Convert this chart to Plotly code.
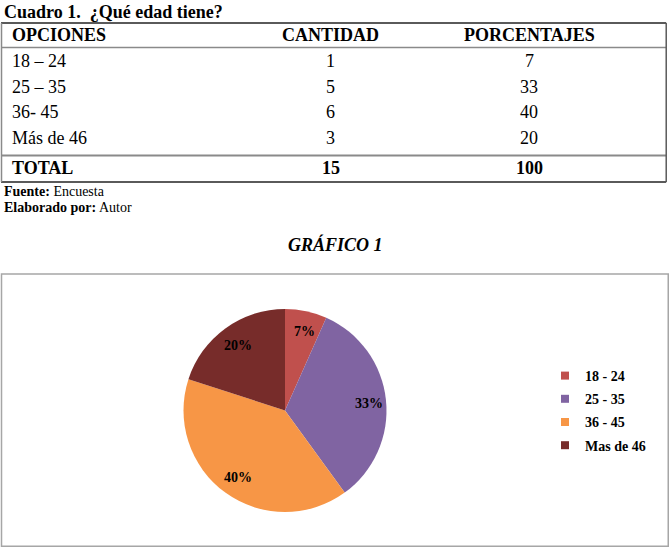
import math
import plotly.graph_objects as go

W, H = 669, 547

# ---- data ----
title_text = "Cuadro 1.  ¿Qué edad tiene?"
headers = ["OPCIONES", "CANTIDAD", "PORCENTAJES"]
opciones = ["18 – 24", "25 – 35", "36- 45", "Más de 46"]
cantidad = [1, 5, 6, 3]
porcentajes = [7, 33, 40, 20]
total_label = "TOTAL"
total_cantidad = 15
total_porcentaje = 100
pie_labels = ["18 - 24", "25 - 35", "36 - 45", "Mas de 46"]
pie_colors = ["#C0504D", "#8064A2", "#F79646", "#772C2A"]
chart_title = "GRÁFICO 1"

SERIF = "Liberation Serif, Times New Roman, serif"


def px(x):
    return x / W


def py(y):
    return 1 - y / H


# pie placement (pixels)
PIE_L, PIE_R, PIE_T, PIE_B = 183, 387, 309, 512

fig = go.Figure()

fig.add_trace(go.Pie(
    labels=pie_labels,
    values=cantidad,
    marker=dict(colors=pie_colors, line=dict(width=0)),
    sort=False,
    direction="clockwise",
    rotation=0,
    textinfo="none",
    domain=dict(x=[px(PIE_L), px(PIE_R)], y=[py(PIE_B), py(PIE_T)]),
    showlegend=False,
    hoverinfo="label+percent",
))

# legend entries (one per slice, same labels/colours)
for lab, col in zip(pie_labels, pie_colors):
    fig.add_trace(go.Scatter(
        x=[None], y=[None], mode="markers", name=lab, legendgroup=lab,
        marker=dict(symbol="square", size=8, color=col),
        showlegend=True, hoverinfo="skip",
    ))

ann = []
shapes = []

# pie percentage labels, placed at each slice's mid angle
cx = (PIE_L + PIE_R) / 2
cy = (PIE_T + PIE_B) / 2
rad = (PIE_R - PIE_L) / 2
tot = sum(cantidad)
cum = 0
f_pie = dict(family=SERIF, size=14, color="black")
for v in cantidad:
    frac = v / tot
    mid = (cum + frac / 2) * 2 * math.pi
    cum += frac
    rr = 0.8 * rad
    lx = cx + rr * math.sin(mid)
    ly = cy - rr * math.cos(mid)
    ann.append(dict(x=px(lx), y=py(ly), text="<b>%d%%</b>" % round(frac * 100),
                    xanchor="center", yanchor="middle", showarrow=False, font=f_pie))

# Title
ann.append(dict(x=px(4), y=py(11), text="<b>" + title_text + "</b>", xanchor="left",
                yanchor="middle", showarrow=False, font=dict(family=SERIF, size=18, color="black")))

# Table lines
line_dark = "#5a5a5a"
line_mid = "#8a8a8a"
shapes.append(dict(type="line", x0=px(3), x1=px(659), y0=py(22), y1=py(22),
                   line=dict(color=line_dark, width=2)))
shapes.append(dict(type="line", x0=px(3), x1=px(659), y0=py(46.5), y1=py(46.5),
                   line=dict(color=line_mid, width=1.5)))
shapes.append(dict(type="line", x0=px(3), x1=px(659), y0=py(154.5), y1=py(154.5),
                   line=dict(color=line_mid, width=2)))
shapes.append(dict(type="line", x0=px(3), x1=px(659), y0=py(181), y1=py(181),
                   line=dict(color=line_dark, width=2)))
shapes.append(dict(type="line", x0=px(3.5), x1=px(3.5), y0=py(22), y1=py(181),
                   line=dict(color=line_mid, width=1.5)))
shapes.append(dict(type="line", x0=px(659), x1=px(659), y0=py(22), y1=py(181),
                   line=dict(color=line_dark, width=1.5)))

col_x = [12, 328, 524]
f_table = dict(family=SERIF, size=18, color="black")


def txt(x, y, s, anchor):
    ann.append(dict(x=px(x), y=py(y), text=s, xanchor=anchor, yanchor="middle",
                    showarrow=False, font=f_table))


# header
hy = 34
txt(col_x[0], hy, "<b>" + headers[0] + "</b>", "left")
txt(col_x[1], hy, "<b>" + headers[1] + "</b>", "center")
txt(col_x[2], hy, "<b>" + headers[2] + "</b>", "center")

row_y = [60, 86, 111, 137]
for r, (o, c, p) in enumerate(zip(opciones, cantidad, porcentajes)):
    y = row_y[r]
    txt(col_x[0], y, o, "left")
    txt(col_x[1], y, str(c), "center")
    txt(col_x[2], y, str(p), "center")

ty = 167
txt(col_x[0], ty, "<b>" + total_label + "</b>", "left")
txt(col_x[1], ty, "<b>" + str(total_cantidad) + "</b>", "center")
txt(col_x[2], ty, "<b>" + str(total_porcentaje) + "</b>", "center")

f_small = dict(family=SERIF, size=14, color="black")
ann.append(dict(x=px(4), y=py(190), text="<b>Fuente:</b> Encuesta", xanchor="left",
                yanchor="middle", showarrow=False, font=f_small))
ann.append(dict(x=px(4), y=py(206), text="<b>Elaborado por:</b> Autor", xanchor="left",
                yanchor="middle", showarrow=False, font=f_small))

ann.append(dict(x=px(333), y=py(243), text="<b><i>" + chart_title + "</i></b>", xanchor="center",
                yanchor="middle", showarrow=False, font=dict(family=SERIF, size=18, color="black")))

# Chart box
shapes.append(dict(type="rect", x0=px(3.5), x1=px(661), y0=py(273), y1=py(545),
                   line=dict(color="#a6a6a6", width=1.5), fillcolor="rgba(0,0,0,0)"))

fig.update_layout(
    width=W, height=H,
    margin=dict(l=0, r=0, t=0, b=0),
    paper_bgcolor="white",
    plot_bgcolor="white",
    xaxis=dict(visible=False),
    yaxis=dict(visible=False),
    annotations=ann,
    shapes=shapes,
    legend=dict(
        x=px(545), y=py(360), xanchor="left", yanchor="top",
        font=dict(family=SERIF, size=14, color="black", weight="bold"),
        bgcolor="rgba(0,0,0,0)",
        tracegroupgap=2,
        itemclick=False, itemdoubleclick=False,
    ),
)

fig.write_html("out.html")
